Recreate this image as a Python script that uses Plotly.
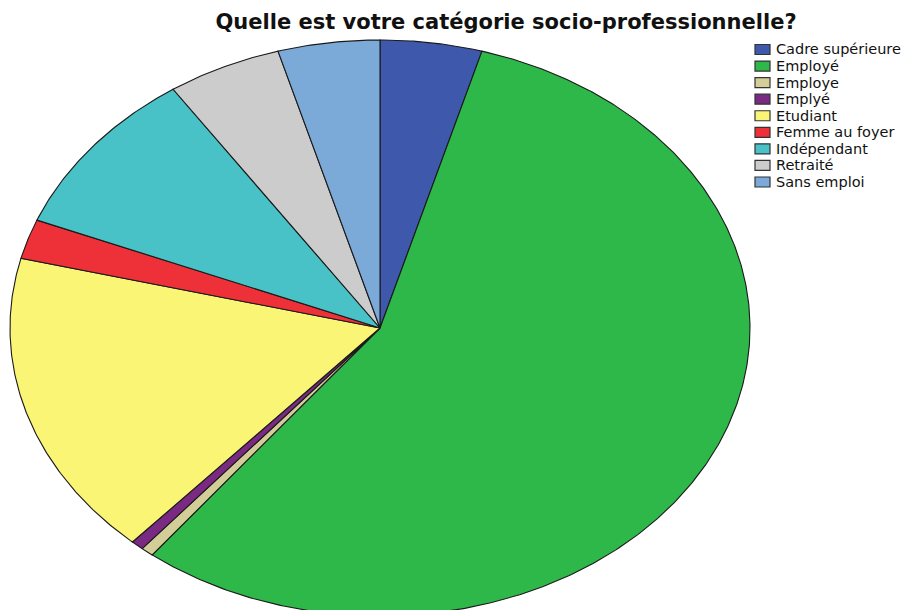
import numpy as np
import plotly.graph_objects as go

# Answers to "Quelle est votre catégorie socio-professionnelle?"
categories = [
    "Cadre supérieure", "Employé", "Employe", "Emplyé", "Etudiant",
    "Femme au foyer", "Indépendant", "Retraité", "Sans emploi",
]
counts = [8, 101, 1, 1, 31, 4, 17, 9, 8]
colors = [
    "#3E58AC", "#2EB84A", "#D3CE97", "#7B2A83", "#FAF575",
    "#EE3039", "#48C2C6", "#CCCCCC", "#7BA9D8",
]
title_text = "Quelle est votre catégorie socio-professionnelle?"

W, H = 910, 610
# pie centre and radii (in pixels) -> the pie is drawn as a stretched ellipse
CX, CY, RX, RY = 380, 328, 370, 288

fig = go.Figure()
total = float(sum(counts))
start = 0.0
for name, n, col in zip(categories, counts, colors):
    a0 = 2 * np.pi * start / total
    a1 = 2 * np.pi * (start + n) / total
    t = np.linspace(a0, a1, max(3, int(720 * n / total) + 3))
    xs = np.concatenate([[0.0], np.sin(t), [0.0]])
    ys = np.concatenate([[0.0], np.cos(t), [0.0]])
    fig.add_trace(go.Scatter(
        x=xs, y=ys, mode="lines", fill="toself", fillcolor=col,
        line=dict(color="#1a1a1a", width=1.1),
        name=name, showlegend=False, hoverinfo="name",
    ))
    start += n

# legend drawn as boxes + labels
LX, LY0, LSTEP = 755, 49.5, 16.56
for i, (name, col) in enumerate(zip(categories, colors)):
    yc = LY0 + i * LSTEP
    fig.add_shape(
        type="rect", xref="paper", yref="paper",
        x0=LX / W, x1=(LX + 15) / W,
        y0=1 - (yc + 5) / H, y1=1 - (yc - 5) / H,
        fillcolor=col, line=dict(color="#333333", width=1.2),
    )
    fig.add_annotation(
        x=(LX + 19) / W, y=1 - yc / H, xref="paper", yref="paper",
        text=name, showarrow=False, xanchor="left", yanchor="middle",
        font=dict(family="DejaVu Sans", size=14.5, color="#111111"),
    )

fig.update_layout(
    width=W, height=H,
    margin=dict(l=0, r=0, t=0, b=0),
    paper_bgcolor="white", plot_bgcolor="white",
    showlegend=False,
    title=dict(
        text="<b>" + title_text + "</b>",
        x=506 / W, y=1 - 22 / H, xanchor="center", yanchor="middle",
        xref="paper", yref="container",
        font=dict(family="DejaVu Sans", size=21, color="#111111"),
    ),
    xaxis=dict(range=[(0 - CX) / RX, (W - CX) / RX], visible=False,
               fixedrange=True),
    yaxis=dict(range=[(CY - H) / RY, CY / RY], visible=False,
               fixedrange=True),
)

fig.write_html("out.html")
